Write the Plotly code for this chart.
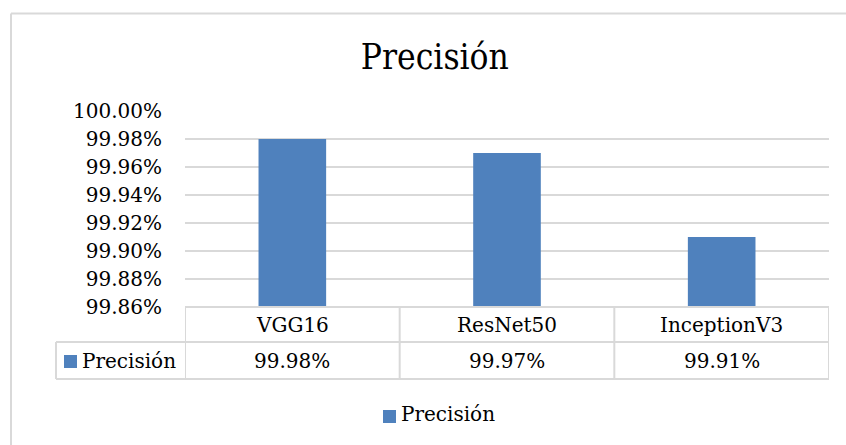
import plotly.graph_objects as go

# Model accuracy values (percent)
models = ["VGG16", "ResNet50", "InceptionV3"]
precision = [99.98, 99.97, 99.91]
series_name = "Precisión"
tick_vals = [99.86, 99.88, 99.90, 99.92, 99.94, 99.96, 99.98, 100.00]
tick_text = ["99.86%", "99.88%", "99.90%", "99.92%", "99.94%", "99.96%", "99.98%", "100.00%"]

W, H = 846, 445
BAR = "#4f81bd"
GRID = "#d9d9d9"
FONT = "DejaVu Serif"


def px(x):
    return x / W


def py(y):
    return 1 - y / H


fig = go.Figure(
    go.Bar(
        x=models,
        y=precision,
        marker=dict(color=BAR, line=dict(width=0)),
        width=0.315,
        name=series_name,
        showlegend=False,
        hoverinfo="x+y",
    )
)

x0, x1 = 185, 829
y_top, y_bot = 111, 307
row1, row2 = 342, 379

fig.update_layout(
    width=W,
    height=H,
    autosize=False,
    margin=dict(l=0, r=0, t=0, b=0, pad=0, autoexpand=False),
    showlegend=False,
    paper_bgcolor="white",
    plot_bgcolor="white",
    font=dict(family=FONT, size=20, color="#000000"),
    xaxis=dict(
        domain=[px(x0), px(x1)],
        range=[-0.5, 2.5],
        showticklabels=False,
        showgrid=False,
        zeroline=False,
        showline=False,
        ticks="",
        automargin=False,
    ),
    yaxis=dict(
        domain=[py(y_bot), py(y_top)],
        range=[99.86, 100.0],
        tickvals=tick_vals,
        ticktext=tick_text,
        showgrid=True,
        gridcolor=GRID,
        gridwidth=2,
        zeroline=False,
        showline=False,
        ticks="",
        ticklabelstandoff=22,
        tickfont=dict(family=FONT, size=20),
        automargin=False,
    ),
    title=dict(
        text="Precisión",
        x=0.514,
        xanchor="center",
        y=py(57),
        yanchor="middle",
        font=dict(family="DejaVu Serif Condensed, DejaVu Serif", size=35, color="#000000"),
        automargin=False,
    ),
)

shapes = []
line = dict(color=GRID, width=2)
# Chart-area border (top and left)
shapes.append(dict(type="line", xref="paper", yref="paper", x0=px(11), x1=1, y0=py(13.5), y1=py(13.5), line=line))
shapes.append(dict(type="line", xref="paper", yref="paper", x0=px(11), x1=px(11), y0=py(13.5), y1=0, line=line))

# Data table grid
shapes.append(dict(type="line", xref="paper", yref="paper", x0=px(x0), x1=px(x1), y0=py(y_bot), y1=py(y_bot), line=line))
shapes.append(dict(type="line", xref="paper", yref="paper", x0=px(56), x1=px(x1), y0=py(row1), y1=py(row1), line=line))
shapes.append(dict(type="line", xref="paper", yref="paper", x0=px(56), x1=px(x1), y0=py(row2), y1=py(row2), line=line))
shapes.append(dict(type="line", xref="paper", yref="paper", x0=px(56), x1=px(56), y0=py(row1), y1=py(row2), line=line))
for k in range(len(models) + 1):
    shapes.append(dict(type="line", xref="x", yref="paper", x0=k - 0.5, x1=k - 0.5,
                       y0=py(y_bot), y1=py(row2), line=line))

# Legend keys (table row and bottom legend)
shapes.append(dict(type="rect", xref="paper", yref="paper", x0=px(64), x1=px(77),
                   y0=py(368), y1=py(355), fillcolor=BAR, line=dict(width=0)))
shapes.append(dict(type="rect", xref="paper", yref="paper", x0=px(383), x1=px(396),
                   y0=py(423), y1=py(410), fillcolor=BAR, line=dict(width=0)))

annotations = []
for m, v in zip(models, precision):
    annotations.append(dict(x=m, xref="x", y=py((y_bot + row1) / 2), yref="paper", text=m,
                            showarrow=False, xanchor="center", yanchor="middle",
                            font=dict(family=FONT, size=20)))
    annotations.append(dict(x=m, xref="x", y=py((row1 + row2) / 2), yref="paper", text=f"{v:.2f}%",
                            showarrow=False, xanchor="center", yanchor="middle",
                            font=dict(family=FONT, size=20)))
annotations.append(dict(x=px(82), xref="paper", y=py((row1 + row2) / 2), yref="paper", text=series_name,
                        showarrow=False, xanchor="left", yanchor="middle", xshift=-2,
                        font=dict(family=FONT, size=20)))
annotations.append(dict(x=px(401), xref="paper", y=py(414), yref="paper", text=series_name,
                        showarrow=False, xanchor="left", yanchor="middle", xshift=-2,
                        font=dict(family=FONT, size=20)))

fig.update_layout(shapes=shapes, annotations=annotations)

fig.write_html("out.html")
